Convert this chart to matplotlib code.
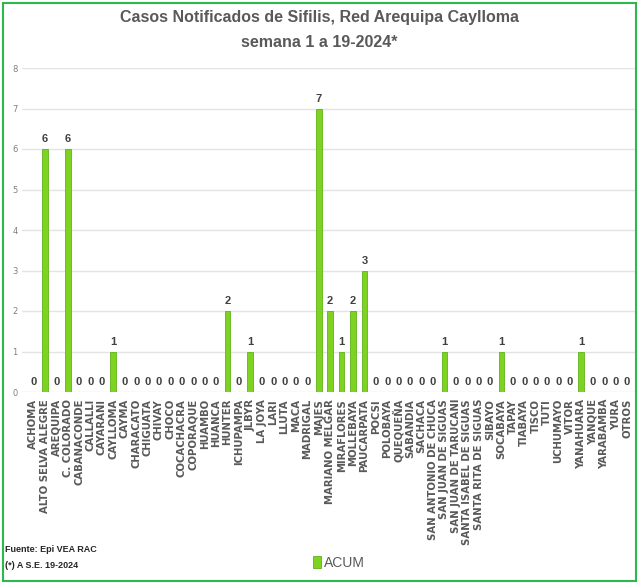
import matplotlib

matplotlib.use("Agg")

from matplotlib import pyplot as plt
from matplotlib.patches import Rectangle

distritos = [
    "ACHOMA", "ALTO SELVA ALEGRE", "AREQUIPA", "C. COLORADO", "CABANACONDE",
    "CALLALLI", "CAYARANI", "CAYLLOMA", "CAYMA", "CHARACATO", "CHIGUATA",
    "CHIVAY", "CHOCO", "COCACHACRA", "COPORAQUE", "HUAMBO", "HUANCA",
    "HUNTER", "ICHUPAMPA", "JLBYR", "LA JOYA", "LARI", "LLUTA", "MACA",
    "MADRIGAL", "MAJES", "MARIANO MELGAR", "MIRAFLORES", "MOLLEBAYA",
    "PAUCARPATA", "POCSI", "POLOBAYA", "QUEQUEÑA", "SABANDIA", "SACHACA",
    "SAN ANTONIO DE CHUCA", "SAN JUAN DE SIGUAS", "SAN JUAN DE TARUCANI",
    "SANTA ISABEL DE SIGUAS", "SANTA RITA DE SIGUAS", "SIBAYO", "SOCABAYA",
    "TAPAY", "TIABAYA", "TISCO", "TUTI", "UCHUMAYO", "VITOR", "YANAHUARA",
    "YANQUE", "YARABAMBA", "YURA", "OTROS",
]
acum = [
    0, 6, 0, 6, 0,
    0, 0, 1, 0, 0, 0,
    0, 0, 0, 0, 0, 0,
    2, 0, 1, 0, 0, 0, 0,
    0, 7, 2, 1, 2,
    3, 0, 0, 0, 0, 0,
    0, 1, 0,
    0, 0, 0, 1,
    0, 0, 0, 0, 0, 0, 1,
    0, 0, 0, 0,
]
y_ticks = list(range(0, 9))

narrow = ["Liberation Sans Narrow", "Liberation Sans", "DejaVu Sans"]

fig = plt.figure(figsize=(6.39, 5.83), dpi=100)
ax = fig.add_axes([22 / 639, 191 / 583, 613 / 639, 324 / 583])

x = list(range(len(distritos)))
bars = ax.bar(x, acum, width=0.5, color="#7ed321", edgecolor="#5fb31a",
              linewidth=0.6, zorder=3, label="ACUM")

for xi, v in zip(x, acum):
    ax.text(xi, v + 0.12, str(v), ha="center", va="bottom", fontsize=8,
            fontweight="bold", color="#404040", family=narrow)

ax.set_xlim(-1, 52.7)
ax.set_ylim(0, 8)
ax.set_yticks(y_ticks)
ax.tick_params(axis="y", labelsize=6, colors="#7f7f7f", length=0, pad=3)
ax.grid(axis="y", color="#e3e3e3", linewidth=1, zorder=0)
ax.set_xticks(x)
ax.set_xticklabels(distritos, rotation=90, fontsize=7.3, fontweight="bold",
                   color="#595959", family="DejaVu Sans")
ax.tick_params(axis="x", length=0, pad=5)
for s in ax.spines.values():
    s.set_visible(False)

fig.text(0.5, 0.982, "Casos Notificados de Sifilis, Red Arequipa Caylloma\nsemana 1 a 19-2024*",
         ha="center", va="top", fontsize=11.5, fontweight="bold", color="#595959",
         family=narrow, linespacing=1.8)

fig.legend(handles=[bars], labels=["ACUM"], loc="center",
           bbox_to_anchor=(0.53, 0.035), frameon=False,
           handlelength=0.6, handleheight=0.9, handletextpad=0.2,
           prop={"family": narrow, "size": 10})
for t in fig.legends[0].get_texts():
    t.set_color("#595959")

fig.text(0.008, 0.053, "Fuente: Epi VEA RAC", fontsize=6.5, fontweight="bold",
         color="#262626", family=narrow)
fig.text(0.008, 0.025, "(*) A S.E. 19-2024", fontsize=6.5, fontweight="bold",
         color="#262626", family=narrow)

fig.patches.append(Rectangle((0.004, 0.004), 0.992, 0.99, transform=fig.transFigure,
                             fill=False, edgecolor="#2db84d", linewidth=1.5))

fig.savefig("out.png", dpi=100)
